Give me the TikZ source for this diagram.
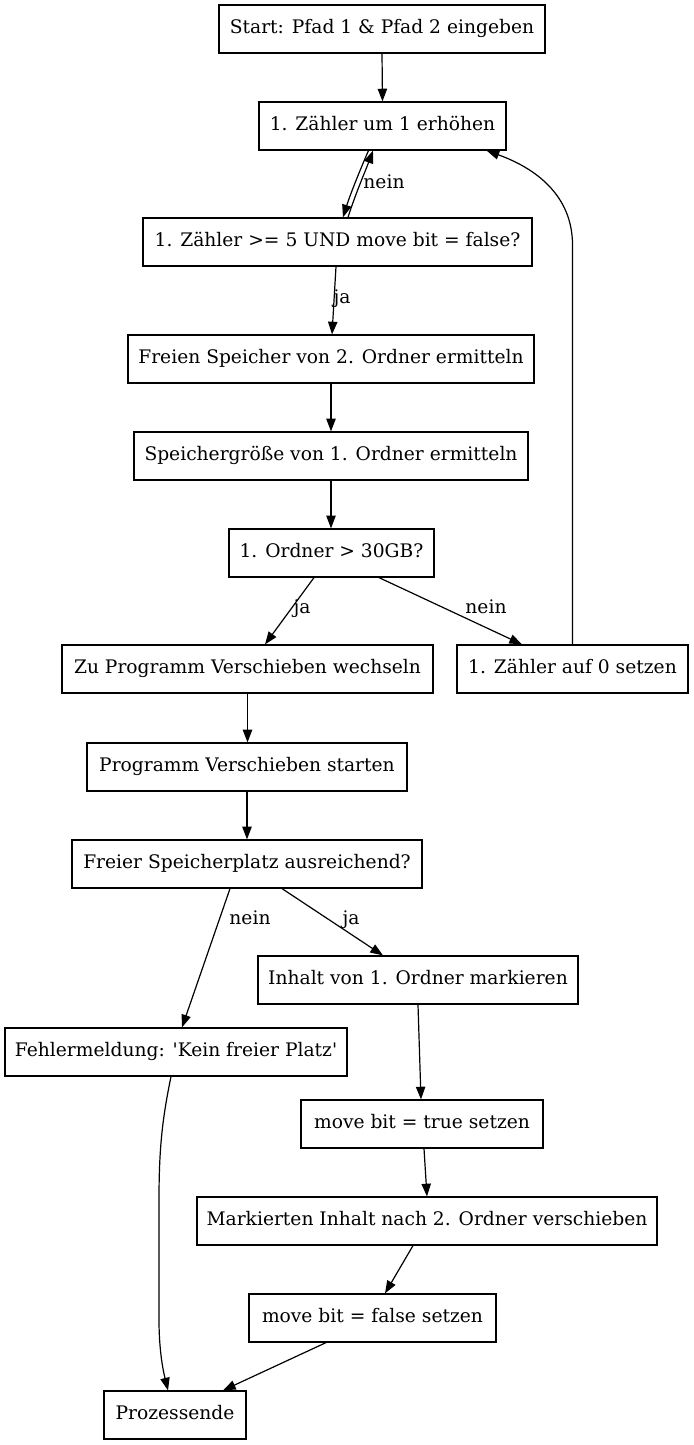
\documentclass[tikz,border=0pt]{standalone}
\usepackage{fontspec}
\setmainfont{DejaVu Serif}
\usetikzlibrary{arrows.meta,calc}
\tikzset{
  box/.style={draw=black, line width=0.9pt, rectangle, minimum height=48*0.75pt, inner sep=0pt,
    font=\fontsize{14pt}{16pt}\selectfont, text height=10pt, text depth=3.2pt},
  lbl/.style={inner sep=0pt, font=\fontsize{14pt}{16pt}\selectfont, text height=10pt, text depth=3.2pt},
  arr/.style={-{Triangle[length=9.5pt,width=7pt]}, line width=0.9pt},
}
\begin{document}
\begin{tikzpicture}[x=0.75pt,y=-0.75pt]
\useasboundingbox (0,0) rectangle (693,1445);
\node[box, minimum width=326*0.75pt] (start) at (382,29) {Start: Pfad 1 \& Pfad 2 eingeben};
\node[box, minimum width=247*0.75pt] (z1) at (382.5,126) {1. Zähler um 1 erhöhen};
\node[box, minimum width=389*0.75pt] (c1) at (337.5,242) {1. Zähler >= 5 UND move bit = false?};
\node[box, minimum width=406*0.75pt] (frei) at (331,359) {Freien Speicher von 2. Ordner ermitteln};
\node[box, minimum width=394*0.75pt] (size) at (331,456) {Speichergröße von 1. Ordner ermitteln};
\node[box, minimum width=205*0.75pt] (c2) at (331.5,553) {1. Ordner > 30GB?};
\node[box, minimum width=371*0.75pt] (zu) at (247.5,669) {Zu Programm Verschieben wechseln};
\node[box, minimum width=231*0.75pt] (reset) at (572.5,669) {1. Zähler auf 0 setzen};
\node[box, minimum width=320*0.75pt] (prog) at (247,767) {Programm Verschieben starten};
\node[box, minimum width=350*0.75pt] (c3) at (247,864) {Freier Speicherplatz ausreichend?};
\node[box, minimum width=320*0.75pt] (inhalt) at (418,980) {Inhalt von 1. Ordner markieren};
\node[box, minimum width=342*0.75pt] (fehler) at (176,1052) {Fehlermeldung: \textquotesingle Kein freier Platz\textquotesingle};
\node[box, minimum width=242*0.75pt] (mt) at (422,1124) {move bit = true setzen};
\node[box, minimum width=460*0.75pt] (mark) at (427,1221) {Markierten Inhalt nach 2. Ordner verschieben};
\node[box, minimum width=247*0.75pt] (mf) at (372.5,1318) {move bit = false setzen};
\node[box, minimum width=142*0.75pt] (ende) at (175,1415) {Prozessende};

\node[lbl] (l1) at (384,184) {nein};
\node[lbl] (l2) at (342,299) {ja};
\node[lbl] (l3) at (302,609) {ja};
\node[lbl] (l4) at (486,609) {nein};
\node[lbl] (l5) at (250,920) {nein};
\node[lbl] (l6) at (351,920) {ja};

\draw[arr] (start.south) -- (z1.north);
\draw[arr] ($(z1.south)+(-14,0)$) .. controls (360,170) and (350,195) .. ($(c1.north)+(5.5,0)$);
\draw[arr] ($(c1.north)+(10.5,0)$) .. controls (355,195) and (365,172) .. ($(z1.south)+(-9.5,0)$);
\draw[arr] ($(c1.south)+(-1.5,0)$) -- ($(frei.north)+(1,0)$);
\draw[arr] (frei.south) -- (size.north);
\draw[arr] (size.south) -- ($(c2.north)+(-0.5,0)$);
\draw[arr] ($(c2.south)+(-17.5,0)$) -- ($(zu.north)+(17.5,0)$);
\draw[arr] ($(c2.south)+(47.5,0)$) -- ($(reset.north)+(-50.5,0)$);
\draw[arr] (reset.north) -- (572.5,245) .. controls (572.5,195) and (535,168) .. ($(z1.south east)+(-20,0)$);
\draw[arr] (zu.south) -- ($(prog.north)+(0.5,0)$);
\draw[arr] (prog.south) -- (c3.north);
\draw[arr] ($(c3.south)+(-17,0)$) -- ($(fehler.north)+(6,0)$);
\draw[arr] ($(c3.south)+(35,0)$) -- ($(inhalt.north)+(-35,0)$);
\draw[arr] (inhalt.south) -- ($(mt.north)+(-1,0)$);
\draw[arr] ($(mt.south)+(2,0)$) -- ($(mark.north)+(0,0)$);
\draw[arr] ($(mark.south)+(-14,0)$) -- ($(mf.north)+(12.5,0)$);
\draw[arr] ($(mf.south)+(-46.5,0)$) -- ($(ende.north)+(48,0)$);
\draw[arr] ($(fehler.south)+(-5,0)$) .. controls (162,1120) and (159,1150) .. (159,1200) -- (159,1320) .. controls (159,1350) and (163,1370) .. ($(ende.north)+(-7,0)$);
\end{tikzpicture}
\end{document}
